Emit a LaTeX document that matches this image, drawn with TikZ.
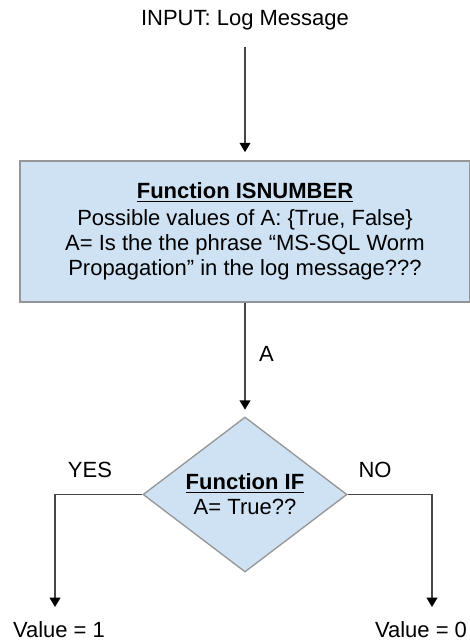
\documentclass[tikz,border=0pt]{standalone}
\usepackage{fontspec}
\setmainfont{Liberation Sans}
\usetikzlibrary{arrows.meta,positioning,shapes.geometric}
\definecolor{fnblue}{RGB}{207,226,243}
\definecolor{fnedge}{RGB}{150,150,150}
\definecolor{fnline}{RGB}{70,70,70}
\begin{document}
\begin{tikzpicture}[x=0.75pt,y=-0.75pt,
  txt/.style={inner sep=0pt,font=\fontsize{16.5}{18.75}\selectfont},
  fnbox/.style={draw=fnedge,line width=1.2pt,fill=fnblue,minimum width=337.5pt,minimum height=105.75pt,align=center,inner sep=0pt,font=\fontsize{16.5}{18.75}\selectfont},
  fndia/.style={diamond,aspect=1.32,draw=fnedge,line width=1pt,fill=fnblue,minimum width=153pt,minimum height=116.25pt,align=center,inner sep=0pt,font=\fontsize{16.5}{18.75}\selectfont},
  arr/.style={-{Triangle[length=7pt,width=8pt,color=black]},line width=1.2pt,draw=fnline}]
\useasboundingbox (0,0) rectangle (470,643);
\node[txt] (inp) at (245,20) {INPUT: Log Message};
\node[fnbox] (isn) at (245,231.5) {\underline{\textbf{Function ISNUMBER}}\\[1.5pt]
  Possible values of A: \{True, False\}\\
  A= Is the the phrase “MS-SQL Worm\\
  Propagation” in the log message???};
\node[fndia] (ifn) at (245,494.5) {\underline{\textbf{Function IF}}\\A= True??};
\node[txt] (yes) at (90,470) {YES};
\node[txt] (no) at (375,470) {NO};
\node[txt] (val1) at (59,630) {Value = 1};
\node[txt] (val0) at (421,630) {Value = 0};
\draw[arr,shorten <=12.5pt,shorten >=6pt] (inp) -- (isn);
\draw[arr,shorten >=5pt] (isn) -- node[txt,right=10pt,pos=0.45]{A} (ifn);
\draw[arr,shorten >=11pt] (ifn.west) -| ([xshift=-3pt]val1.north);
\draw[arr,shorten >=11pt] (ifn.east) -| ([xshift=8.25pt]val0.north);
\end{tikzpicture}
\end{document}
